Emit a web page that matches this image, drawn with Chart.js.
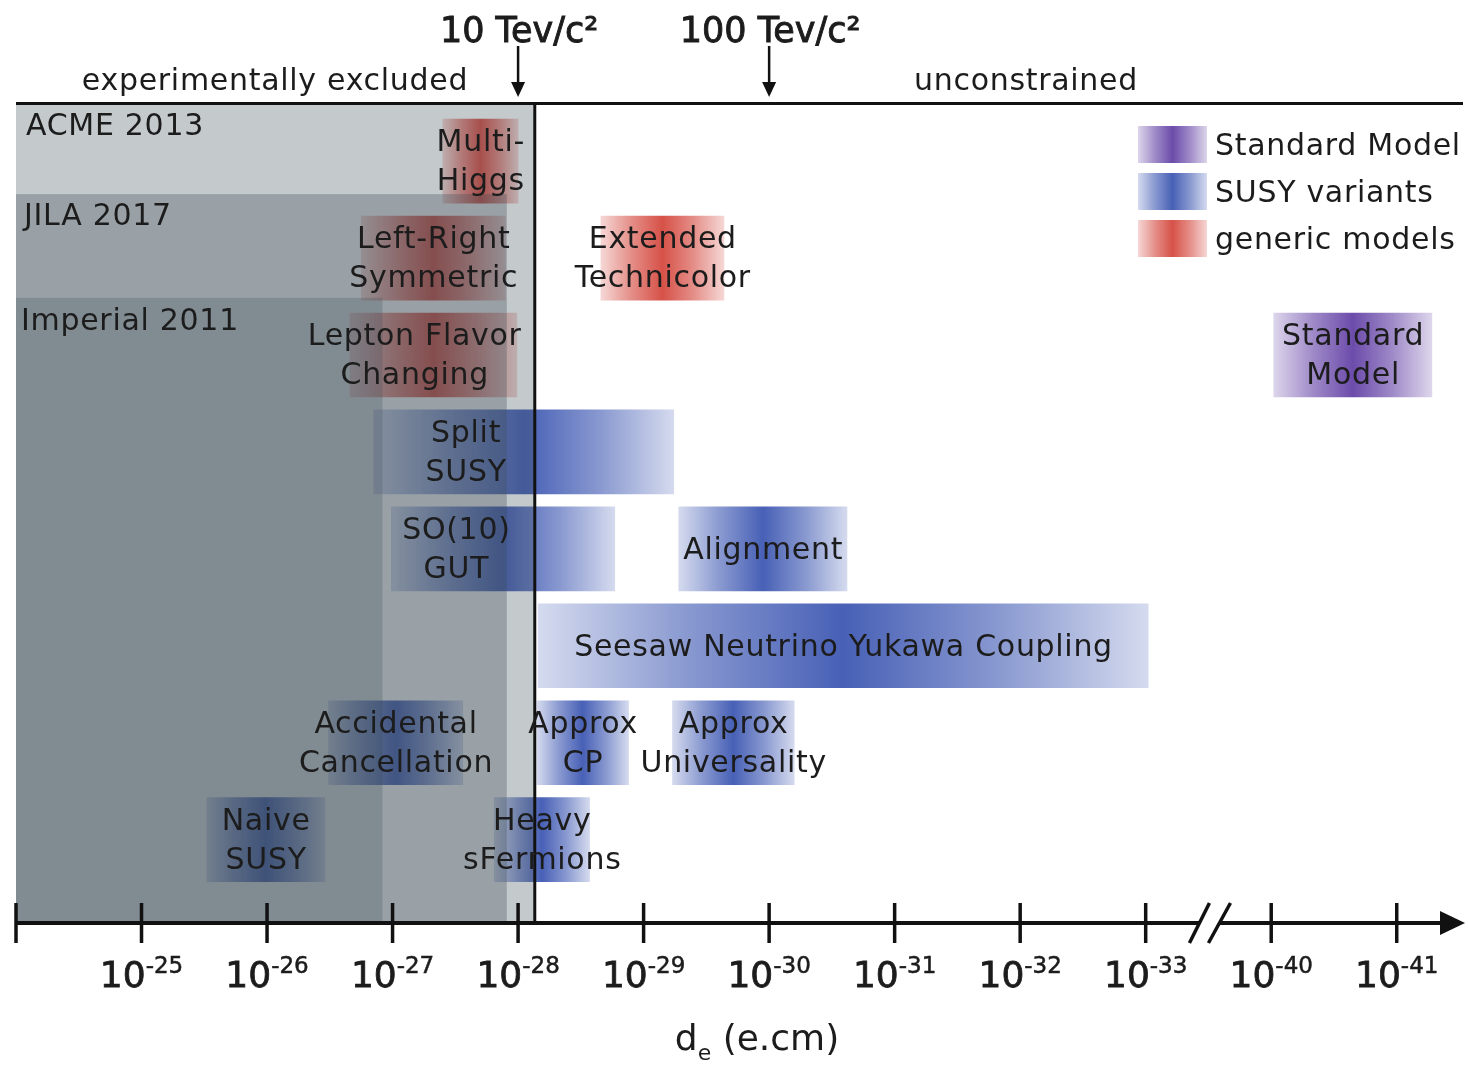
<!DOCTYPE html>
<html><head><meta charset="utf-8">
<script src="https://cdn.jsdelivr.net/npm/chart.js@4/dist/chart.umd.min.js"></script>
<style>html,body{margin:0;padding:0;background:#fff}#wrap{width:1468px;height:1068px}</style>
</head><body><div id="wrap"><canvas id="c" width="1468" height="1068"></canvas></div>
<script>
// ---------------- data (x values are -log10(d_e / e.cm)) ----------------
const modelClasses = ['Standard Model', 'SUSY variants', 'generic models'];

const smLabels = ['Standard\nModel'];
const smRows   = [3];
const smFrom   = [40.02];
const smTo     = [41.28];

const susyLabels = ['Split\nSUSY', 'SO(10)\nGUT', 'Alignment', 'Seesaw Neutrino Yukawa Coupling',
                    'Accidental\nCancellation', 'Approx\nCP', 'Approx\nUniversality', 'Naive\nSUSY', 'Heavy\nsFermions'];
const susyRows = [4, 5, 5, 6, 7, 7, 7, 8, 8];
const susyFrom = [26.85, 26.99, 29.28, 28.16, 26.49, 28.15, 29.23, 25.52, 27.81];
const susyTo   = [29.24, 28.77, 30.62, 33.02, 27.56, 28.88, 30.20, 26.46, 28.57];

const genLabels = ['Multi-\nHiggs', 'Left-Right\nSymmetric', 'Extended\nTechnicolor', 'Lepton Flavor\nChanging'];
const genRows   = [1, 2, 2, 3];
const genFrom   = [27.40, 26.75, 28.66, 26.66];
const genTo     = [28.00, 27.90, 29.64, 27.99];

const experiments = ['ACME 2013', 'JILA 2017', 'Imperial 2011'];
const expLimits   = [28.125, 27.91, 26.92];
const expTopRow   = [0.4, 1.34, 2.41];

const tickExponents = [25, 26, 27, 28, 29, 30, 31, 32, 33, 40, 41];
const massLabels    = ['10 Tev/c²', '100 Tev/c²'];
const massExponents = [28, 30];

// axis break: decades 34..39 are skipped
function brk(e) { return e >= 40 ? e - 6 : e; }
function toPoints(rows, from, to, labels) {
  return rows.map((r, i) => ({ x: [brk(from[i]), brk(to[i])], y: r, label: labels[i] }));
}

// ---------------- styles ----------------
const FONT = 'DejaVu Sans';
const TXT = '#1c1c1c';
const classRGB = ['100,66,166', '62,88,178', '212,72,62'];
const shadeRGB = '58,75,85';
const shadeAlpha = [0.3, 0.31, 0.245];
const labelNudge = { 'Lepton Flavor\nChanging': -19, 'Split\nSUSY': -58, 'SO(10)\nGUT': -47 };

function makeGrad(ctx, a, b, rgb) {
  const g = ctx.createLinearGradient(a, 0, b, 0);
  g.addColorStop(0, `rgba(${rgb},0.22)`);
  g.addColorStop(0.25, `rgba(${rgb},0.62)`);
  g.addColorStop(0.5, `rgba(${rgb},0.95)`);
  g.addColorStop(0.75, `rgba(${rgb},0.62)`);
  g.addColorStop(1, `rgba(${rgb},0.22)`);
  return g;
}
function gradFill(rgb) {
  return (c) => {
    const chart = c.chart, raw = c.raw;
    const fallback = `rgba(${rgb},0.6)`;
    if (!raw || !raw.x || !chart.scales || !chart.scales.x) return fallback;
    const xs = chart.scales.x;
    const a = xs.getPixelForValue(raw.x[0]), b = xs.getPixelForValue(raw.x[1]);
    if (!isFinite(a) || !isFinite(b) || a === b) return fallback;
    return makeGrad(chart.ctx, a, b, rgb);
  };
}

function text(ctx, s, x, y, size, opt = {}) {
  ctx.save();
  ctx.font = `${opt.weight || 'normal'} ${size}px "${FONT}"`;
  if ('letterSpacing' in ctx) ctx.letterSpacing = (opt.ls || 0) + 'px';
  ctx.fillStyle = opt.color || TXT;
  ctx.textAlign = opt.align || 'left';
  ctx.textBaseline = 'alphabetic';
  ctx.fillText(s, x, y);
  if (opt.stroke) { ctx.lineWidth = opt.stroke; ctx.strokeStyle = opt.color || TXT; ctx.strokeText(s, x, y); }
  ctx.restore();
}
function width(ctx, s, size) { ctx.save(); ctx.font = `${size}px "${FONT}"`; if ('letterSpacing' in ctx) ctx.letterSpacing = '0px'; const w = ctx.measureText(s).width; ctx.restore(); return w; }

const LS = 0.7;

const deco = {
  id: 'deco',
  afterDatasetsDraw(chart) {
    const { ctx, chartArea: a, scales: { x, y } } = chart;
    ctx.save();
    // translucent exclusion regions drawn over the bars
    experiments.forEach((name, i) => {
      const xr = x.getPixelForValue(expLimits[i]);
      const yt = y.getPixelForValue(expTopRow[i]);
      ctx.fillStyle = `rgba(${shadeRGB},${shadeAlpha[i]})`;
      ctx.fillRect(a.left, yt, xr - a.left, a.bottom - yt);
    });
    // ACME limit line
    const xl = x.getPixelForValue(expLimits[0]) + 1;
    ctx.strokeStyle = '#111'; ctx.lineWidth = 3;
    ctx.beginPath(); ctx.moveTo(xl, a.top); ctx.lineTo(xl, a.bottom); ctx.stroke();
    // top line
    ctx.beginPath(); ctx.moveTo(a.left, a.top + 0.5); ctx.lineTo(a.right + 1, a.top + 0.5); ctx.stroke();

    // experiment labels
    experiments.forEach((name, i) => {
      const yt = y.getPixelForValue(expTopRow[i]);
      text(ctx, name, a.left + [10, 8, 5][i], yt + [32, 31, 32][i], 30, { ls: LS });
    });

    // bar labels
    chart.data.datasets.forEach((ds, di) => {
      const meta = chart.getDatasetMeta(di);
      meta.data.forEach((el, j) => {
        const lab = ds.data[j].label;
        const lines = lab.split('\n');
        const cx = (el.x + el.base) / 2 + (labelNudge[lab] || 0);
        const offs = lines.length === 1 ? [10] : [-10, 29];
        lines.forEach((ln, k) => text(ctx, ln, cx + LS / 2, el.y + offs[k], 30, { align: 'center', ls: LS }));
      });
    });

    // x axis
    const ay = a.bottom;
    ctx.strokeStyle = '#111'; ctx.fillStyle = '#111';
    ctx.lineWidth = 4;
    ctx.beginPath(); ctx.moveTo(a.left, ay); ctx.lineTo(a.right - 20, ay); ctx.stroke();
    ctx.beginPath(); ctx.moveTo(a.right - 22, ay - 12); ctx.lineTo(a.right + 3, ay); ctx.lineTo(a.right - 22, ay + 12); ctx.closePath(); ctx.fill();
    ctx.lineWidth = 3.5;
    const tickPos = [x.min].concat(tickExponents.map(brk));
    tickPos.forEach(v => {
      const px = x.getPixelForValue(v);
      ctx.beginPath(); ctx.moveTo(px, ay - 20); ctx.lineTo(px, ay + 20); ctx.stroke();
    });
    // axis break
    const bx = (x.getPixelForValue(33) + x.getPixelForValue(34)) / 2;
    ctx.fillStyle = '#fff';
    ctx.beginPath(); ctx.moveTo(bx - 17, ay + 20); ctx.lineTo(bx + 1, ay - 20); ctx.lineTo(bx + 20, ay - 20); ctx.lineTo(bx + 2, ay + 20); ctx.closePath(); ctx.fill();
    ctx.lineWidth = 3.5; ctx.strokeStyle = '#111';
    ctx.beginPath(); ctx.moveTo(bx - 19, ay + 20); ctx.lineTo(bx + 1, ay - 20); ctx.stroke();
    ctx.beginPath(); ctx.moveTo(bx + 0, ay + 20); ctx.lineTo(bx + 22, ay - 20); ctx.stroke();

    // tick labels
    tickExponents.forEach(e => {
      const px = x.getPixelForValue(brk(e));
      const base = '10', sup = '-' + e;
      const w1 = width(ctx, base, 36), w2 = width(ctx, sup, 23);
      const sx = px - (w1 + w2) / 2;
      text(ctx, base, sx, ay + 64, 36, { stroke: 0.8 });
      text(ctx, sup, sx + w1, ay + 50, 23, { stroke: 0.5 });
    });

    // axis title
    {
      const w1 = width(ctx, 'd', 36), w2 = width(ctx, 'e', 22), w3 = width(ctx, ' (e.cm)', 36);
      const sx = 757 - (w1 + w2 + w3) / 2;
      text(ctx, 'd', sx, 1050, 36);
      text(ctx, 'e', sx + w1, 1060, 22);
      text(ctx, ' (e.cm)', sx + w1 + w2, 1050, 36);
    }

    // mass scale annotations
    massLabels.forEach((s, i) => {
      const px = x.getPixelForValue(massExponents[i]);
      text(ctx, s, px + 1, 42, 35, { align: 'center', stroke: 0.9 });
      ctx.lineWidth = 2.5; ctx.strokeStyle = '#111'; ctx.fillStyle = '#111';
      ctx.beginPath(); ctx.moveTo(px, 46); ctx.lineTo(px, 86); ctx.stroke();
      ctx.beginPath(); ctx.moveTo(px - 7, 82); ctx.lineTo(px + 7, 82); ctx.lineTo(px, 97); ctx.closePath(); ctx.fill();
    });
    text(ctx, 'experimentally excluded', 275, 90, 30, { align: 'center', ls: LS });
    text(ctx, 'unconstrained', 1026, 90, 30, { align: 'center', ls: LS });

    // legend
    modelClasses.forEach((name, i) => {
      const top = 126 + i * 47;
      ctx.fillStyle = makeGrad(ctx, 1138, 1207, classRGB[i]);
      ctx.fillRect(1138, top, 69, 37);
      text(ctx, name, 1215, top + 29, 30, { ls: LS });
    });
    ctx.restore();
  }
};

new Chart(document.getElementById('c'), {
  type: 'bar',
  data: {
    datasets: [
      { label: modelClasses[0], data: toPoints(smRows, smFrom, smTo, smLabels), backgroundColor: gradFill(classRGB[0]) },
      { label: modelClasses[1], data: toPoints(susyRows, susyFrom, susyTo, susyLabels), backgroundColor: gradFill(classRGB[1]) },
      { label: modelClasses[2], data: toPoints(genRows, genFrom, genTo, genLabels), backgroundColor: gradFill(classRGB[2]) }
    ]
  },
  options: {
    indexAxis: 'y',
    responsive: false,
    animation: false,
    grouped: false,
    barThickness: 84,
    borderWidth: 0,
    layout: { padding: { left: 16, right: 6, top: 103, bottom: 145 } },
    scales: {
      x: { type: 'linear', min: 24, max: 35.52, display: false, offset: false },
      y: { type: 'linear', min: 0.4, max: 8.86, reverse: true, display: false, offset: false }
    },
    plugins: { legend: { display: false }, tooltip: { enabled: false } }
  },
  plugins: [deco]
});
</script>
</body></html>
